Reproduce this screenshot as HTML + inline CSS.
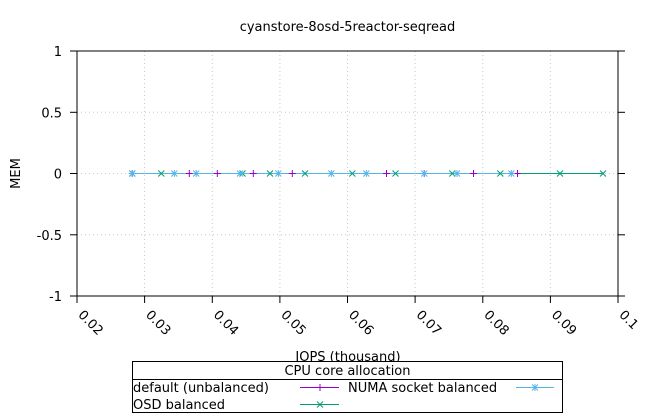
<!DOCTYPE html>
<html><head><meta charset="utf-8"><style>
html,body{margin:0;padding:0;background:#fff;}
svg{display:block;font-family:"DejaVu Sans","Liberation Sans",sans-serif;font-size:13px;}
</style></head><body>
<svg width="650" height="420" viewBox="0 0 650 420" xmlns="http://www.w3.org/2000/svg">
<rect width="650" height="420" fill="#fff"/>
<!-- grid -->
<g stroke="#c8c8c8" stroke-width="1" stroke-dasharray="1,3" fill="none">
<line x1="144.6" y1="51" x2="144.6" y2="296"/>
<line x1="212.3" y1="51" x2="212.3" y2="296"/>
<line x1="279.9" y1="51" x2="279.9" y2="296"/>
<line x1="347.5" y1="51" x2="347.5" y2="296"/>
<line x1="415.1" y1="51" x2="415.1" y2="296"/>
<line x1="482.8" y1="51" x2="482.8" y2="296"/>
<line x1="550.4" y1="51" x2="550.4" y2="296"/>
<line x1="77" y1="112.3" x2="618" y2="112.3"/>
<line x1="77" y1="173.5" x2="618" y2="173.5"/>
<line x1="77" y1="234.8" x2="618" y2="234.8"/>
</g>
<!-- border & ticks -->
<g stroke="#000" stroke-width="1" fill="none">
<rect x="77" y="51" width="541" height="245"/>
<line x1="70" y1="51" x2="77" y2="51"/>
<line x1="70" y1="112.3" x2="77" y2="112.3"/>
<line x1="70" y1="173.5" x2="77" y2="173.5"/>
<line x1="70" y1="234.8" x2="77" y2="234.8"/>
<line x1="70" y1="296" x2="77" y2="296"/>
<line x1="618" y1="51" x2="625" y2="51"/>
<line x1="618" y1="112.3" x2="625" y2="112.3"/>
<line x1="618" y1="173.5" x2="625" y2="173.5"/>
<line x1="618" y1="234.8" x2="625" y2="234.8"/>
<line x1="618" y1="296" x2="625" y2="296"/>
<line x1="77" y1="296" x2="77" y2="303"/>
<line x1="144.6" y1="296" x2="144.6" y2="303"/>
<line x1="212.3" y1="296" x2="212.3" y2="303"/>
<line x1="279.9" y1="296" x2="279.9" y2="303"/>
<line x1="347.5" y1="296" x2="347.5" y2="303"/>
<line x1="415.1" y1="296" x2="415.1" y2="303"/>
<line x1="482.8" y1="296" x2="482.8" y2="303"/>
<line x1="550.4" y1="296" x2="550.4" y2="303"/>
<line x1="618" y1="296" x2="618" y2="303"/>
</g>
<!-- y tick labels -->
<g fill="#000" text-anchor="end">
<text x="62" y="56">1</text>
<text x="62" y="117.3">0.5</text>
<text x="62" y="178.5">0</text>
<text x="62" y="239.8">-0.5</text>
<text x="62" y="301">-1</text>
</g>
<!-- x tick labels -->
<g fill="#000" dominant-baseline="central">
<text transform="translate(80,313) rotate(45)">0.02</text>
<text transform="translate(147.6,313) rotate(45)">0.03</text>
<text transform="translate(215.3,313) rotate(45)">0.04</text>
<text transform="translate(282.9,313) rotate(45)">0.05</text>
<text transform="translate(350.5,313) rotate(45)">0.06</text>
<text transform="translate(418.1,313) rotate(45)">0.07</text>
<text transform="translate(485.8,313) rotate(45)">0.08</text>
<text transform="translate(553.4,313) rotate(45)">0.09</text>
<text transform="translate(621,313) rotate(45)">0.1</text>
</g>
<!-- titles -->
<text x="347.5" y="31" text-anchor="middle">cyanstore-8osd-5reactor-seqread</text>
<text x="348" y="361" text-anchor="middle">IOPS (thousand)</text>
<text transform="translate(20,173.5) rotate(-90)" text-anchor="middle">MEM</text>
<!-- series lines -->
<g stroke-width="1" fill="none" shape-rendering="crispEdges">
<line x1="132" y1="173.5" x2="518" y2="173.5" stroke="#9400d3"/>
<line x1="132" y1="173.5" x2="603" y2="173.5" stroke="#009e73"/>
<line x1="132" y1="173.5" x2="511" y2="173.5" stroke="#56b4e9"/>
</g>
<defs>
<path id="pp" d="M-3.5,0H3.5M0,-3.5V3.5" stroke="#9400d3" stroke-width="1" fill="none"/>
<path id="px" d="M-3,-3L3,3M-3,3L3,-3" stroke="#009e73" stroke-width="1" fill="none"/>
<path id="ps" d="M-3.5,0H3.5M0,-3.5V3.5M-3,-3L3,3M-3,3L3,-3" stroke="#56b4e9" stroke-width="1" fill="none"/>
</defs>
<g>
<use href="#pp" x="132.3" y="173.5"/><use href="#pp" x="189.3" y="173.5"/><use href="#pp" x="217.3" y="173.5"/><use href="#pp" x="253.3" y="173.5"/><use href="#pp" x="292.3" y="173.5"/><use href="#pp" x="386.5" y="173.5"/><use href="#pp" x="424.3" y="173.5"/><use href="#pp" x="473.5" y="173.5"/><use href="#pp" x="517.5" y="173.5"/>
<use href="#px" x="132.3" y="173.5"/><use href="#px" x="161.3" y="173.5"/><use href="#px" x="242.5" y="173.5"/><use href="#px" x="270" y="173.5"/><use href="#px" x="305" y="173.5"/><use href="#px" x="352.3" y="173.5"/><use href="#px" x="395.5" y="173.5"/><use href="#px" x="452.3" y="173.5"/><use href="#px" x="500.3" y="173.5"/><use href="#px" x="560" y="173.5"/><use href="#px" x="603" y="173.5"/>
<use href="#ps" x="132.3" y="173.5"/><use href="#ps" x="174.3" y="173.5"/><use href="#ps" x="196.2" y="173.5"/><use href="#ps" x="240" y="173.5"/><use href="#ps" x="278.3" y="173.5"/><use href="#ps" x="331.3" y="173.5"/><use href="#ps" x="366.3" y="173.5"/><use href="#ps" x="424.3" y="173.5"/><use href="#ps" x="457" y="173.5"/><use href="#ps" x="511.3" y="173.5"/>
</g>
<!-- legend -->
<rect x="132.5" y="361.5" width="430" height="51" fill="#fff" stroke="#000" stroke-width="1"/>
<line x1="132.5" y1="379.5" x2="562.5" y2="379.5" stroke="#000" stroke-width="1"/>
<text x="347.5" y="375" text-anchor="middle">CPU core allocation</text>
<text x="133" y="392">default (unbalanced)</text>
<text x="348" y="392">NUMA socket balanced</text>
<text x="133" y="409">OSD balanced</text>
<line x1="300" y1="387.5" x2="339" y2="387.5" stroke="#9400d3" stroke-width="1" shape-rendering="crispEdges"/>
<use href="#pp" x="320" y="387.5"/>
<line x1="516" y1="387.5" x2="554" y2="387.5" stroke="#56b4e9" stroke-width="1" shape-rendering="crispEdges"/>
<use href="#ps" x="535" y="387.5"/>
<line x1="300" y1="404.5" x2="339" y2="404.5" stroke="#009e73" stroke-width="1" shape-rendering="crispEdges"/>
<use href="#px" x="320" y="404.5"/>
</svg>
</body></html>
